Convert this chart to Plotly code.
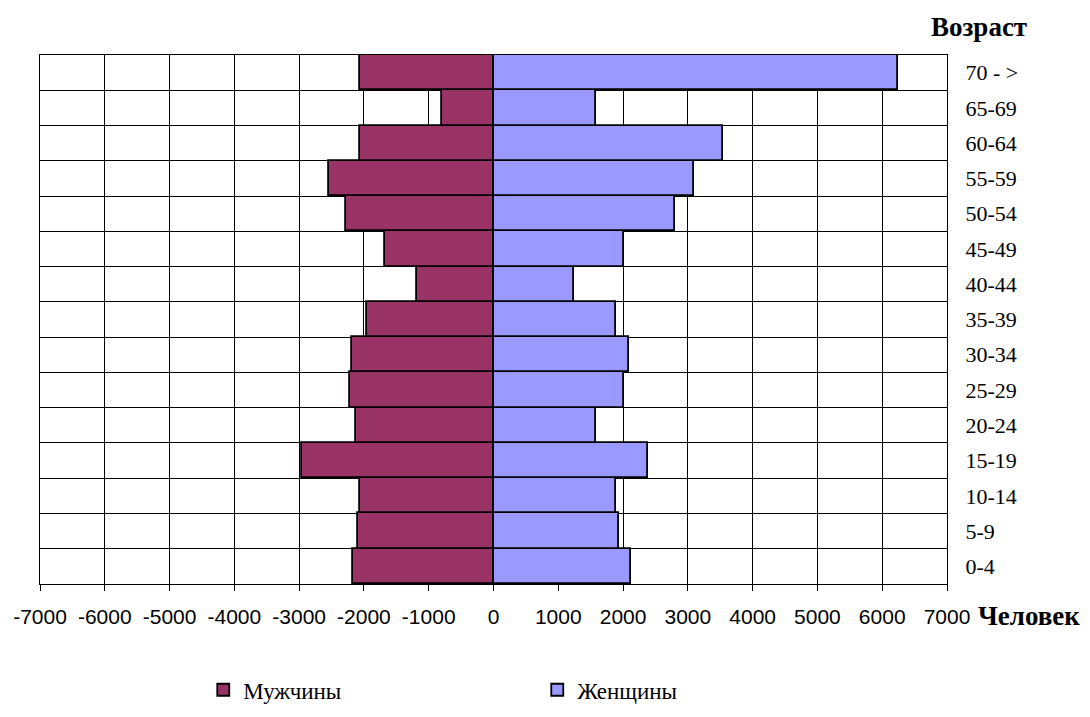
import plotly.graph_objects as go

ages = ["0-4", "5-9", "10-14", "15-19", "20-24", "25-29", "30-34", "35-39",
        "40-44", "45-49", "50-54", "55-59", "60-64", "65-69", "70 - >"]
men = [2175, 2085, 2055, 2950, 2115, 2210, 2180, 1960,
       1185, 1680, 2270, 2540, 2055, 790, 2055]
women = [2115, 1930, 1895, 2390, 1580, 2020, 2085, 1895,
         1250, 2020, 2795, 3100, 3535, 1580, 6250]
x_ticks = list(range(-7000, 7001, 1000))

pos = list(range(len(ages)))

fig = go.Figure()
fig.add_trace(go.Bar(
    y=pos, x=[-v for v in men], orientation="h", name="Мужчины",
    marker=dict(color="#993366", line=dict(color="black", width=1.8)),
    width=1.0,
))
fig.add_trace(go.Bar(
    y=pos, x=women, orientation="h", name="Женщины",
    marker=dict(color="#9999FF", line=dict(color="black", width=1.8)),
    width=1.0,
))

fig.update_layout(
    width=1090, height=717,
    margin=dict(l=32, r=151, t=47, b=141),
    barmode="overlay", bargap=0,
    plot_bgcolor="white", paper_bgcolor="white",
    showlegend=True,
    legend=dict(orientation="h", x=0.18, xanchor="left", y=-0.2, yanchor="middle",
                font=dict(family="Liberation Serif", size=23, color="black"),
                entrywidth=289, entrywidthmode="pixels", traceorder="normal"),
    xaxis=dict(range=[-7000, 7000], tickvals=x_ticks, ticktext=[str(v) for v in x_ticks],
               showgrid=True, gridcolor="black", gridwidth=1, zeroline=False,
               showline=True, linecolor="black", linewidth=1, mirror=True,
               ticks="outside", ticklen=6, tickcolor="black",
               tickfont=dict(family="Liberation Sans", size=21, color="black"),
               ticklabelstandoff=8, automargin=False, fixedrange=True),
    yaxis=dict(range=[-0.5, len(ages) - 0.5], tickvals=pos, ticktext=ages, side="right",
               showgrid=False, zeroline=False,
               minor=dict(tickvals=[p + 0.5 for p in pos[:-1]], showgrid=True,
                          gridcolor="black", gridwidth=1, ticks=""),
               showline=True, linecolor="black", linewidth=1, mirror=True,
               ticks="", ticklabelstandoff=13, automargin=False,
               tickfont=dict(family="Liberation Serif", size=22, color="black"),
               fixedrange=True),
    annotations=[
        dict(text="<b>Возраст</b>", xref="paper", yref="paper", x=1.035, y=1.0,
             xanchor="center", yanchor="middle", yshift=28, showarrow=False,
             font=dict(family="Liberation Serif", size=27, color="black")),
        dict(text="<b>Человек</b>", xref="paper", yref="paper", x=1.0, y=0,
             xanchor="left", yanchor="middle", xshift=29, yshift=-32, showarrow=False,
             font=dict(family="Liberation Serif", size=27, color="black")),
    ],
)

fig.write_html("out.html")
